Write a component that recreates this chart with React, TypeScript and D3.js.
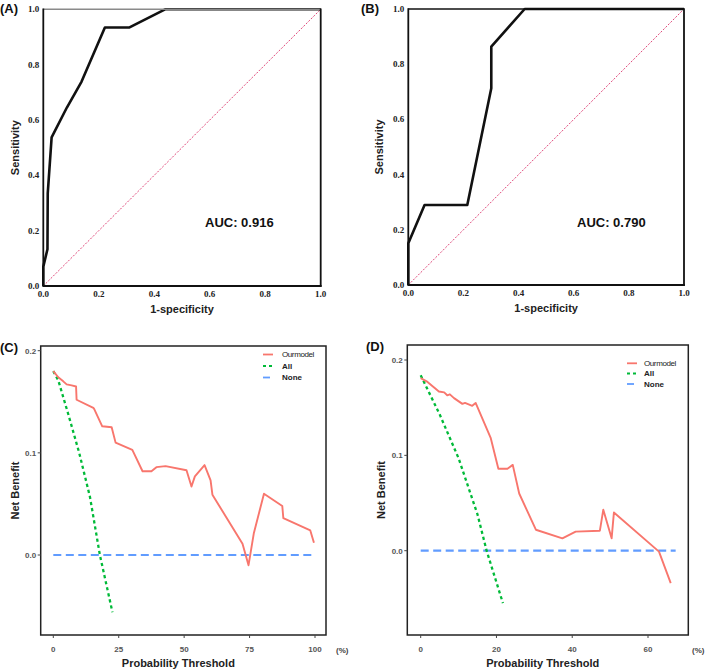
import React from "react";
import * as d3 from "d3";

// ROC A
const rocAFpr = [0, 0, 0.015, 0.016, 0.03, 0.085, 0.138, 0.222, 0.309, 0.439, 1];
const rocATpr = [0, 0.07, 0.133, 0.335, 0.537, 0.645, 0.739, 0.934, 0.934, 1, 1];
// ROC B
const rocBFpr = [0, 0, 0.059, 0.214, 0.301, 0.301, 0.422, 1];
const rocBTpr = [0, 0.151, 0.29, 0.29, 0.713, 0.864, 1, 1];
const rocTicks = [0, 0.2, 0.4, 0.6, 0.8, 1.0];

// DCA C
const dcaCThr = [0, 1.9, 3.8, 5.1, 7, 8.7, 8.9, 15.3, 15.6, 18.7, 22.3, 23.8, 30.2, 34.1, 37.5, 39.4, 42.9, 50.9, 52.8, 54.1, 57.8, 60.1, 60.8, 72.3, 74.6, 76.6, 80.5, 87.5, 87.9, 98.2, 99.6];
const dcaCModel = [0.18, 0.174, 0.17, 0.167, 0.166, 0.165, 0.152, 0.144, 0.143, 0.126, 0.125, 0.11, 0.103, 0.082, 0.082, 0.086, 0.087, 0.083, 0.067, 0.077, 0.088, 0.073, 0.059, 0.011, -0.01, 0.021, 0.06, 0.048, 0.036, 0.024, 0.012];
const dcaCAllThr = [0, 1.9, 5.7, 9.9, 14, 17.8, 22.6];
const dcaCAll = [0.18, 0.171, 0.138, 0.1, 0.057, 0.0, -0.056];
const dcaCNoneThr = [0, 99.6];
const dcaCNone = [0, 0];
const dcaCXTicks = [0, 25, 50, 75, 100];

// DCA D
const dcaDThr = [0, 1.8, 4.8, 6.2, 7.0, 7.7, 8.8, 11.0, 11.7, 13.6, 14.5, 18.5, 20.5, 22.9, 24.3, 26.0, 30.4, 37.4, 40.9, 47.3, 48.2, 50.4, 51.0, 62.9, 66.0];
const dcaDModel = [0.181, 0.177, 0.167, 0.166, 0.163, 0.164, 0.16, 0.154, 0.155, 0.152, 0.155, 0.118, 0.086, 0.086, 0.09, 0.06, 0.022, 0.013, 0.02, 0.021, 0.043, 0.013, 0.04, -0.001, -0.034];
const dcaDAllThr = [0, 5, 10, 15, 17.4, 21.7];
const dcaDAll = [0.184, 0.143, 0.097, 0.038, 0.0, -0.055];
const dcaDNoneThr = [0, 67.3];
const dcaDNone = [0, 0];
const dcaDXTicks = [0, 20, 40, 60];

const dcaYTicks = [0.0, 0.1, 0.2];
const legendLabels = ["Ourmodel", "All", "None"];
const colModel = "#F8766D";
const colAll = "#00BA38";
const colNone = "#619CFF";

const SANS = "'Liberation Sans', Arial, sans-serif";
const SERIF = "'Liberation Serif', 'Times New Roman', serif";

type RocProps = {
  fpr: number[]; tpr: number[]; auc: string; tag: string;
  left: number; right: number; top: number; bottom: number;
  tagX: number; ylabX: number; aucX: number; topColor: string;
};

function RocPanel(p: RocProps) {
  const x = d3.scaleLinear().domain([0, 1]).range([p.left, p.right]);
  const y = d3.scaleLinear().domain([0, 1]).range([p.bottom, p.top]);
  const line = d3.line<number>().x((_, i) => x(p.fpr[i])).y((d) => y(d));
  const cx = (p.left + p.right) / 2;
  const cy = (p.top + p.bottom) / 2;
  return (
    <g>
      <line x1={x(0)} y1={y(0)} x2={x(1)} y2={y(1)} stroke="#e0487a" strokeWidth={1} strokeDasharray="2 1.5" />
      <path d={line(p.tpr) || ""} fill="none" stroke="#111" strokeWidth={2.6} strokeLinejoin="round" />
      <line x1={p.left} y1={p.top} x2={p.right} y2={p.top} stroke={p.topColor} strokeWidth={1.6} />
      <line x1={p.left} y1={p.top - 0.8} x2={p.left} y2={p.bottom} stroke="#111" strokeWidth={1.8} />
      <line x1={p.right} y1={p.top - 0.8} x2={p.right} y2={p.bottom + 0.8} stroke="#111" strokeWidth={1.8} />
      <line x1={p.left - 0.9} y1={p.bottom} x2={p.right + 0.9} y2={p.bottom} stroke="#111" strokeWidth={1.8} />
      {rocTicks.map((t) => (
        <text key={"y" + t} x={p.left - 4} y={y(t)} dy="0.33em" textAnchor="end" fontFamily={SERIF} fontWeight="bold" fontSize={9} fill="#222">
          {t.toFixed(1)}
        </text>
      ))}
      {rocTicks.map((t) => (
        <text key={"x" + t} x={x(t)} y={p.bottom + 11} textAnchor="middle" fontFamily={SERIF} fontWeight="bold" fontSize={9} fill="#222">
          {t.toFixed(1)}
        </text>
      ))}
      <text x={cx} y={p.bottom + 27} textAnchor="middle" fontFamily={SANS} fontWeight="bold" fontSize={11} fill="#222">1-specificity</text>
      <text transform={`translate(${p.ylabX},${cy}) rotate(-90)`} textAnchor="middle" fontFamily={SANS} fontWeight="bold" fontSize={11} fill="#222">Sensitivity</text>
      <text x={p.aucX} y={226.5} fontFamily={SANS} fontWeight="bold" fontSize={13} fill="#111">{p.auc}</text>
      <text x={p.tagX} y={12.5} fontFamily={SANS} fontWeight="bold" fontSize={13} fill="#111">{p.tag}</text>
    </g>
  );
}

type DcaProps = {
  thr: number[]; model: number[]; allThr: number[]; all: number[]; noneThr: number[]; none: number[];
  xTicks: number[]; xDomMax: number; xRange: [number, number]; yRange: [number, number];
  boxL: number; boxR: number; boxT: number; boxB: number;
  tag: string; tagX: number; ylabX: number; pctX: number; legLineX: number; legTextX: number; legYs: number[];
};

function DcaPanel(p: DcaProps) {
  const x = d3.scaleLinear().domain([0, p.xDomMax]).range(p.xRange);
  const y = d3.scaleLinear().domain([0, 0.2]).range(p.yRange);
  const mk = (xs: number[]) => d3.line<number>().x((_, i) => x(xs[i])).y((d) => y(d));
  const cx = (p.boxL + p.boxR) / 2;
  const cy = (p.boxT + p.boxB) / 2;
  const legStyles = [
    { c: colModel, dash: undefined as string | undefined },
    { c: colAll, dash: "3 3" },
    { c: colNone, dash: "7 3" },
  ];
  return (
    <g>
      <path d={mk(p.noneThr)(p.none) || ""} fill="none" stroke={colNone} strokeWidth={2.2} strokeDasharray="8 4.5" />
      <path d={mk(p.allThr)(p.all) || ""} fill="none" stroke={colAll} strokeWidth={2.3} strokeDasharray="3.2 3" />
      <path d={mk(p.thr)(p.model) || ""} fill="none" stroke={colModel} strokeWidth={1.9} strokeLinejoin="round" />
      <rect x={p.boxL} y={p.boxT} width={p.boxR - p.boxL} height={p.boxB - p.boxT} fill="none" stroke="#222" strokeWidth={1.5} />
      {dcaYTicks.map((t) => (
        <g key={"y" + t}>
          <line x1={p.boxL - 3} x2={p.boxL} y1={y(t)} y2={y(t)} stroke="#444" strokeWidth={1} />
          <text x={p.boxL - 4.5} y={y(t)} dy="0.35em" textAnchor="end" fontFamily={SANS} fontWeight="bold" fontSize={8} fill="#555">
            {t.toFixed(1)}
          </text>
        </g>
      ))}
      {p.xTicks.map((t) => (
        <g key={"x" + t}>
          <line x1={x(t)} x2={x(t)} y1={p.boxB} y2={p.boxB + 3} stroke="#444" strokeWidth={1} />
          <text x={x(t)} y={p.boxB + 17} textAnchor="middle" fontFamily={SANS} fontWeight="bold" fontSize={8} fill="#555">{t}</text>
        </g>
      ))}
      <text x={p.pctX} y={p.boxB + 17.5} fontFamily={SANS} fontWeight="bold" fontSize={8} fill="#444">(%)</text>
      <text x={cx - 5} y={p.boxB + 31.5} textAnchor="middle" fontFamily={SANS} fontWeight="bold" fontSize={11} fill="#222">Probability Threshold</text>
      <text transform={`translate(${p.ylabX},${cy}) rotate(-90)`} textAnchor="middle" fontFamily={SANS} fontWeight="bold" fontSize={11} fill="#222">Net Benefit</text>
      <text x={p.tagX} y={p.boxT + 6} fontFamily={SANS} fontWeight="bold" fontSize={13} fill="#111">{p.tag}</text>
      {legendLabels.map((lab, i) => (
        <g key={lab}>
          <line x1={p.legLineX} x2={p.legLineX + 10} y1={p.legYs[i]} y2={p.legYs[i]} stroke={legStyles[i].c} strokeWidth={1.8} strokeDasharray={legStyles[i].dash} />
          <text x={p.legTextX} y={p.legYs[i]} dy="0.35em" fontFamily={SANS} fontWeight={i === 0 ? "normal" : "bold"} fontSize={8} fill="#222" letterSpacing={i === 0 ? -0.4 : 0}>{lab}</text>
        </g>
      ))}
    </g>
  );
}

export default function App() {
  return (
    <svg width={709} height={671} style={{ position: "absolute", left: 0, top: 0, background: "#fff" }}>
      <rect width={709} height={671} fill="#fff" />
      <RocPanel fpr={rocAFpr} tpr={rocATpr} auc="AUC: 0.916" tag="(A)" left={43.3} right={320.7} top={9.3} bottom={286}
        tagX={0} ylabX={19} aucX={205} topColor="#8a8a8a" />
      <RocPanel fpr={rocBFpr} tpr={rocBTpr} auc="AUC: 0.790" tag="(B)" left={408.3} right={684} top={9} bottom={285}
        tagX={361} ylabX={383} aucX={577} topColor="#111" />
      <DcaPanel thr={dcaCThr} model={dcaCModel} allThr={dcaCAllThr} all={dcaCAll} noneThr={dcaCNoneThr} none={dcaCNone}
        xTicks={dcaCXTicks} xDomMax={100} xRange={[53.3, 315]} yRange={[555, 350.7]}
        boxL={40.7} boxR={326} boxT={346} boxB={635}
        tag="(C)" tagX={0} ylabX={19} pctX={336} legLineX={263} legTextX={282} legYs={[354.5, 366, 377.5]} />
      <DcaPanel thr={dcaDThr} model={dcaDModel} allThr={dcaDAllThr} all={dcaDAll} noneThr={dcaDNoneThr} none={dcaDNone}
        xTicks={dcaDXTicks} xDomMax={60} xRange={[420.7, 648]} yRange={[550.7, 360]}
        boxL={407.3} boxR={688.3} boxT={345} boxB={635}
        tag="(D)" tagX={366} ylabX={385} pctX={692} legLineX={627} legTextX={644} legYs={[363.3, 373.5, 384]} />
    </svg>
  );
}
